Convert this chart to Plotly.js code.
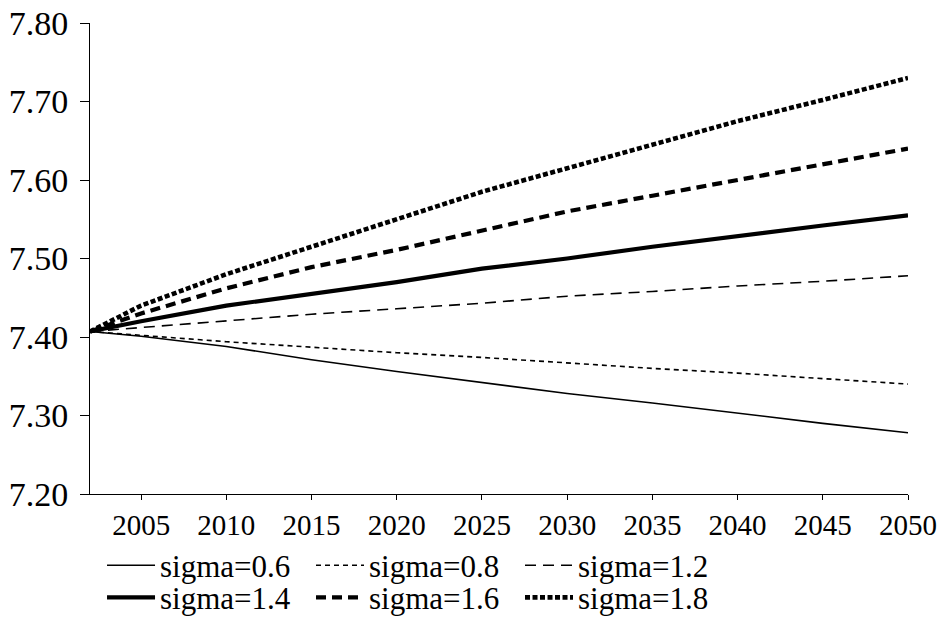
<!DOCTYPE html>
<html>
<head>
<meta charset="utf-8">
<script src="https://cdn.plot.ly/plotly-3.0.1.min.js"></script>
<style>
  html, body { margin: 0; padding: 0; background: #ffffff; }
  #chart { width: 942px; height: 617px; }
</style>
</head>
<body>
<div id="chart"></div>
<script>
// Projected path (log scale) under different elasticity values, 2002-2050
const years = [2002, 2005, 2010, 2015, 2020, 2025, 2030, 2035, 2040, 2045, 2050];

const sigma06 = [7.407, 7.401, 7.388, 7.371, 7.356, 7.342, 7.328, 7.316, 7.303, 7.290, 7.278];
const sigma08 = [7.407, 7.402, 7.394, 7.387, 7.380, 7.374, 7.367, 7.360, 7.354, 7.347, 7.340];
const sigma12 = [7.407, 7.412, 7.420, 7.429, 7.436, 7.443, 7.452, 7.458, 7.465, 7.471, 7.478];
const sigma14 = [7.407, 7.420, 7.440, 7.455, 7.470, 7.487, 7.500, 7.515, 7.529, 7.542, 7.555];
const sigma16 = [7.407, 7.430, 7.462, 7.489, 7.511, 7.535, 7.560, 7.580, 7.600, 7.620, 7.640];
const sigma18 = [7.407, 7.440, 7.480, 7.515, 7.550, 7.585, 7.615, 7.645, 7.675, 7.702, 7.730];

const seriesNames = ['sigma=0.6', 'sigma=0.8', 'sigma=1.2', 'sigma=1.4', 'sigma=1.6', 'sigma=1.8'];
const seriesValues = [sigma06, sigma08, sigma12, sigma14, sigma16, sigma18];

const yTicks = [7.2, 7.3, 7.4, 7.5, 7.6, 7.7, 7.8];
const xTicks = [2005, 2010, 2015, 2020, 2025, 2030, 2035, 2040, 2045, 2050];

// line style per series: thin solid, thin short dash, thin dash, thick solid, thick dash, thick dot
const styles = [
  { width: 1.6, dash: 'solid' },
  { width: 1.6, dash: '5px,4px' },
  { width: 1.6, dash: '11px,7px' },
  { width: 4.2, dash: 'solid' },
  { width: 4.2, dash: '10px,6px' },
  { width: 4.6, dash: '5px,2.5px' }
];

// first three series go in the upper legend row, the rest in the lower row
const traces = seriesNames.map((name, i) => ({
  type: 'scatter',
  mode: 'lines',
  name: name,
  x: years,
  y: seriesValues[i],
  legend: i < 3 ? 'legend' : 'legend2',
  line: { color: '#000000', width: styles[i].width, dash: styles[i].dash },
  hoverinfo: 'skip'
}));

const serif = 'Liberation Serif';

const legendRow = (yPos) => ({
  orientation: 'h',
  xref: 'paper',
  x: 0.0147,
  xanchor: 'left',
  yref: 'container',
  y: yPos,
  yanchor: 'top',
  entrywidth: 146,
  entrywidthmode: 'pixels',
  itemwidth: 48,
  font: { family: serif, size: 31, color: '#000000' },
  bgcolor: 'rgba(0,0,0,0)'
});

const layout = {
  width: 942,
  height: 617,
  paper_bgcolor: '#ffffff',
  plot_bgcolor: '#ffffff',
  margin: { l: 90, r: 34, t: 23, b: 123 },
  font: { family: serif, size: 29, color: '#000000' },
  showlegend: true,
  legend: legendRow(0.127),
  legend2: legendRow(0.075),
  xaxis: {
    range: [2002, 2050],
    tickvals: xTicks,
    ticktext: xTicks.map(String),
    ticks: 'outside',
    ticklen: 5,
    tickcolor: '#000000',
    showline: true,
    linecolor: '#000000',
    linewidth: 1,
    showgrid: false,
    zeroline: false,
    tickfont: { family: serif, size: 29, color: '#000000' }
  },
  yaxis: {
    range: [7.2, 7.8],
    tickvals: yTicks,
    ticktext: yTicks.map(v => v.toFixed(2)),
    ticks: 'outside',
    ticklen: 9,
    ticklabelstandoff: 5,
    tickcolor: '#000000',
    showline: true,
    linecolor: '#000000',
    linewidth: 1,
    showgrid: false,
    zeroline: false,
    tickfont: { family: serif, size: 34, color: '#000000' }
  }
};

Plotly.newPlot('chart', traces, layout, { staticPlot: true, displayModeBar: false });
</script>
</body>
</html>
